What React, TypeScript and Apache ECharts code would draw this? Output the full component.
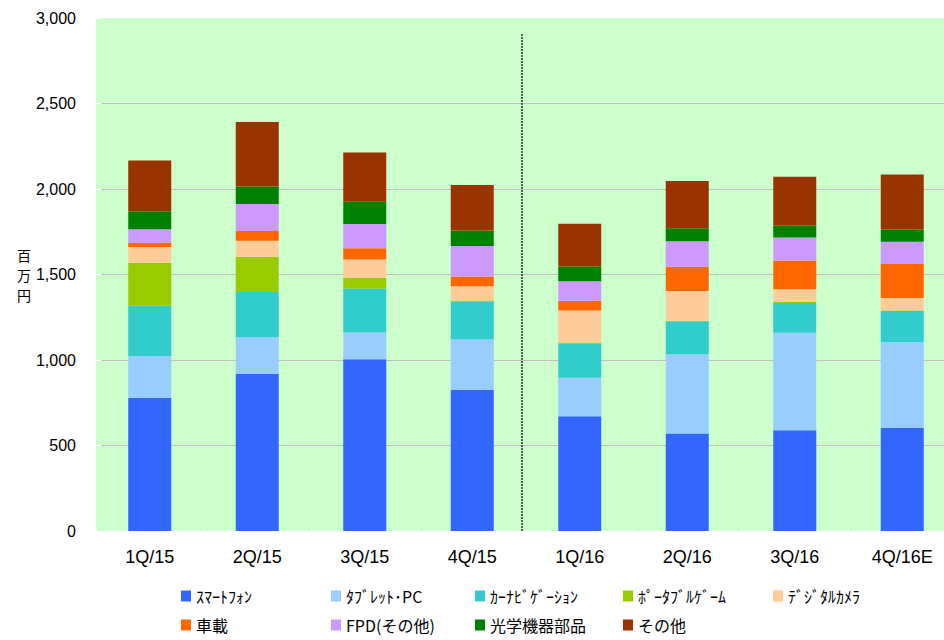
import React, { useEffect, useRef } from "react";
import * as echarts from "echarts";

const categories = ["1Q/15", "2Q/15", "3Q/15", "4Q/15", "1Q/16", "2Q/16", "3Q/16", "4Q/16E"];

const seriesNames = [
  "ｽﾏｰﾄﾌｫﾝ",
  "ﾀﾌﾞﾚｯﾄ･PC",
  "ｶｰﾅﾋﾞｹﾞｰｼｮﾝ",
  "ﾎﾟｰﾀﾌﾞﾙｹﾞｰﾑ",
  "ﾃﾞｼﾞﾀﾙｶﾒﾗ",
  "車載",
  "FPD(その他)",
  "光学機器部品",
  "その他",
];

const smartphone = [778, 920, 1005, 825, 671, 570, 589, 603];
const tablet = [245, 213, 156, 297, 225, 464, 570, 501];
const carNavi = [294, 265, 257, 220, 201, 193, 175, 182];
const portableGame = [252, 205, 62, 6, 6, 2, 6, 4];
const digitalCamera = [92, 94, 108, 83, 187, 174, 74, 73];
const automotive = [25, 58, 66, 57, 56, 142, 168, 199];
const fpdOther = [78, 157, 141, 179, 115, 149, 135, 129];
const opticalParts = [106, 102, 131, 91, 86, 76, 70, 72];
const others = [296, 378, 287, 266, 250, 277, 285, 322];

const seriesValues = [
  smartphone,
  tablet,
  carNavi,
  portableGame,
  digitalCamera,
  automotive,
  fpdOther,
  opticalParts,
  others,
];

const colors = [
  "#3366ff",
  "#99ccff",
  "#33cccc",
  "#99cc00",
  "#ffcc99",
  "#ff6600",
  "#cc99ff",
  "#008000",
  "#993300",
];

const yTicks = [0, 500, 1000, 1500, 2000, 2500, 3000];
const yAxisTitle = ["百", "万", "円"];

const numFont = "'Liberation Sans', Arial, sans-serif";
const jpFont = "'Noto Sans CJK JP', sans-serif";

export default function App() {
  const ref = useRef<HTMLDivElement>(null);

  useEffect(() => {
    if (!ref.current) return;
    const chart = echarts.init(ref.current, null, { renderer: "svg" });

    const legendCols = [0, 1, 2, 3, 4].map((c) => {
      const data = [seriesNames[c]];
      if (c + 5 < seriesNames.length) data.push(seriesNames[c + 5]);
      return data;
    });
    const legendLefts = [181, 331, 475, 623, 773];

    const option: any = {
      animation: false,
      backgroundColor: "#ffffff",
      grid: {
        left: 96,
        top: 18,
        width: 860,
        height: 513,
        show: true,
        backgroundColor: "#ccffcc",
        borderWidth: 0,
        containLabel: false,
      },
      legend: legendCols.map((data, i) => ({
        orient: "vertical",
        left: legendLefts[i],
        top: 588,
        data,
        icon: "rect",
        itemWidth: 10,
        itemHeight: 11,
        itemGap: 13,
        padding: 0,
        selectedMode: false,
        textStyle: {
          fontFamily: jpFont,
          fontSize: 16,
          lineHeight: 16,
          color: "#000",
        },
      })),
      xAxis: {
        type: "category",
        data: categories,
        boundaryGap: true,
        axisLine: { show: true, lineStyle: { color: "#ffffff", width: 1 } },
        axisTick: {
          show: true,
          inside: true,
          length: 4,
          interval: 0,
          lineStyle: { color: "#ffffff" },
        },
        axisLabel: {
          margin: 17,
          fontFamily: numFont,
          fontSize: 18,
          color: "#000",
          interval: 0,
        },
      },
      yAxis: {
        type: "value",
        min: 0,
        max: 3000,
        interval: 500,
        axisLine: { show: false },
        axisTick: {
          show: true,
          inside: true,
          length: 5,
          lineStyle: { color: "#ffffff" },
        },
        axisLabel: {
          margin: 20,
          fontFamily: numFont,
          fontSize: 16,
          color: "#000",
          formatter: (v: number) => v.toLocaleString("en-US"),
        },
        splitLine: {
          show: true,
          lineStyle: {
            color: yTicks.map((t) => (t === 0 || t === 3000 ? "rgba(0,0,0,0)" : "#c0c0c0")),
            width: 1,
          },
        },
      },
      series: seriesNames.map((name, i) => ({
        name,
        type: "bar",
        stack: "total",
        barWidth: 43,
        data: seriesValues[i],
        itemStyle: { color: colors[i] },
        emphasis: { disabled: true },
      })),
    };

    chart.setOption(option);

    const xa = chart.convertToPixel({ xAxisIndex: 0 }, categories[3]) as number;
    const xb = chart.convertToPixel({ xAxisIndex: 0 }, categories[4]) as number;
    const yTop = chart.convertToPixel({ yAxisIndex: 0 }, 2905) as number;
    const yBottom = chart.convertToPixel({ yAxisIndex: 0 }, 0) as number;
    const xd = (xa + xb) / 2 - 4;

    chart.setOption({
      graphic: [
        {
          type: "line",
          shape: { x1: xd, y1: yTop, x2: xd, y2: yBottom },
          style: { stroke: "#000", lineWidth: 1.6, lineDash: [1.6, 1.4] },
          silent: true,
          z: 100,
        },
        ...yAxisTitle.map((ch, i) => ({
          type: "text",
          x: 24,
          y: 248 + i * 20,
          style: {
            text: ch,
            fontFamily: jpFont,
            fontSize: 14,
            fill: "#000",
            align: "center",
            verticalAlign: "top",
          },
          silent: true,
        })),
      ],
    });

    return () => {
      chart.dispose();
    };
  }, []);

  return (
    <div
      ref={ref}
      style={{ position: "fixed", left: 0, top: 0, width: 960, height: 640 }}
    />
  );
}
